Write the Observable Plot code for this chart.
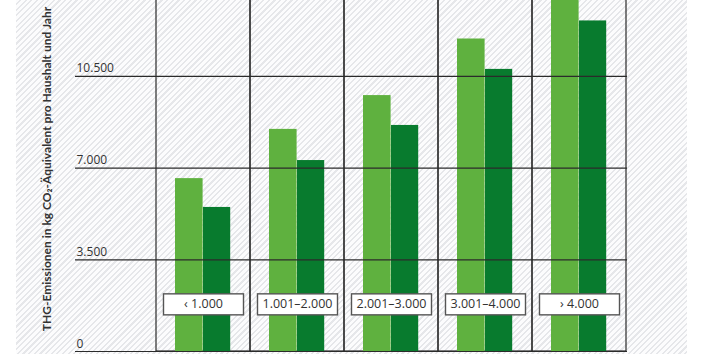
<!DOCTYPE html>
<html>
<head>
<meta charset="utf-8">
<script src="https://cdn.jsdelivr.net/npm/d3@7"></script>
<script src="https://cdn.jsdelivr.net/npm/@observablehq/plot@0.6"></script>
<style>
  html, body { margin: 0; padding: 0; background: #fff; }
  #wrap { position: relative; width: 707px; height: 354px; overflow: hidden; }
  #hatch { position: absolute; left: 16px; top: 0; width: 671px; height: 354px;
    background: repeating-linear-gradient(135deg, #fcfcfd 0px, #fcfcfd 2.4px, #e6e7ea 2.4px, #e6e7ea 4px); }
  #chart { position: absolute; left: 0; top: 0; }
  #chart svg { background: transparent; }
</style>
</head>
<body>
<div id="wrap"><div id="hatch"></div><div id="chart"></div></div>
<script>
const categories = ["‹ 1.000", "1.001–2.000", "2.001–3.000", "3.001–4.000", "› 4.000"];
const seriesA = [6600, 8480, 9770, 11930, 14300];
const seriesB = [5500, 7290, 8630, 10770, 12620];
const yTicks = [0, 3500, 7000, 10500];
const yTickLabels = ["0", "3.500", "7.000", "10.500"];
const yTitle = "THG-Emissionen in kg CO₂-Äquivalent pro Haushalt und Jahr";
const yMax = 13400;
const labelLevel = 1800;

const rowsA = categories.map((c, i) => ({cat: c, v: seriesA[i]}));
const rowsB = categories.map((c, i) => ({cat: c, v: seriesB[i]}));
const labelRows = categories.map(c => ({cat: c, y: labelLevel}));

const font = "'Open Sans', 'Lato', sans-serif";

const chart = Plot.plot({
  width: 707,
  height: 354,
  marginLeft: 155,
  marginRight: 80,
  marginTop: 0,
  marginBottom: 3,
  style: {fontFamily: font, background: "transparent"},
  x: {domain: categories, padding: 0, axis: null},
  y: {domain: [0, yMax], axis: null},
  marks: [
    Plot.barY(categories, {x: d => d, y1: 0, y2: yMax * 2, fill: "none", stroke: "#2b2b2b", strokeWidth: 1.2, inset: 0, clip: true}),
    Plot.barY(rowsA, {x: "cat", y: "v", fill: "#5fb13f", insetLeft: 19, insetRight: 47.4, clip: true}),
    Plot.barY(rowsB, {x: "cat", y: "v", fill: "#087b2e", insetLeft: 47, insetRight: 19.8, clip: true}),
    Plot.gridY(yTicks, {stroke: "#2b2b2b", strokeOpacity: 1, strokeWidth: 1.2}),
    Plot.axisY(yTicks, {
      anchor: "left", tickSize: 80, tickPadding: 0, stroke: "#2b2b2b", strokeWidth: 1.2,
      tickFormat: () => "", label: null
    }),
    Plot.axisY(yTicks, {
      anchor: "left", tickSize: 0, tickPadding: 0,
      tickFormat: (d) => yTickLabels[yTicks.indexOf(d)],
      textAnchor: "start", dx: -79, dy: -4, lineAnchor: "bottom",
      fontSize: 12, fill: "#333", label: null
    }),
    Plot.text(labelRows, {
      x: "cat", y: "y", text: "cat", fontSize: 12.5, fill: "#333",
      render(index, scales, values, dimensions, context, next) {
        const g = next(index, scales, values, dimensions, context);
        const X = values.x, Y = values.y;
        for (const i of index) {
          const r = document.createElementNS("http://www.w3.org/2000/svg", "rect");
          r.setAttribute("x", X[i] - 40);
          r.setAttribute("y", Y[i] - 10.5);
          r.setAttribute("width", 80);
          r.setAttribute("height", 21);
          r.setAttribute("fill", "#fff");
          r.setAttribute("stroke", "#555");
          r.setAttribute("stroke-width", 1.4);
          g.insertBefore(r, g.firstChild);
        }
        return g;
      }
    }),
    Plot.text([yTitle], {
      text: d => d, frameAnchor: "left", textAnchor: "middle", rotate: -90, dx: -108, dy: -7,
      fontFamily: "Lato, sans-serif", fontSize: 12, fontWeight: "bold", fill: "#333"
    })
  ]
});
document.getElementById("chart").appendChild(chart);
</script>
</body>
</html>
